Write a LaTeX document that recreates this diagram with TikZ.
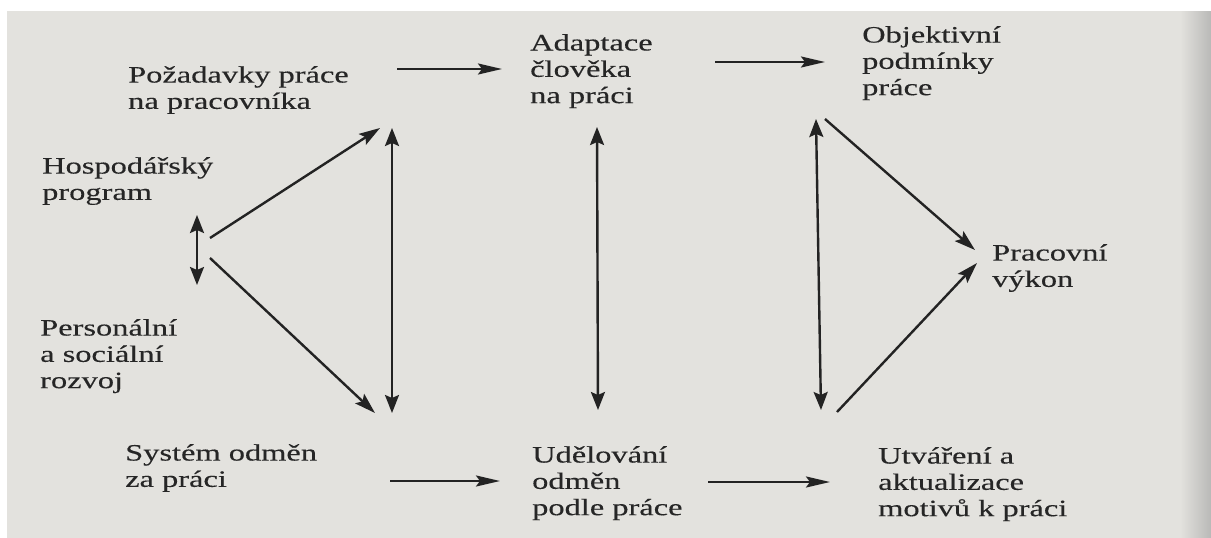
\documentclass[tikz,border=0pt]{standalone}
\usepackage{fontspec}
\setmainfont{Liberation Serif}[FakeStretch=1.38,FakeBold=0.3]
\usetikzlibrary{arrows.meta}
\definecolor{paper}{RGB}{227,226,222}
\definecolor{paperdark}{RGB}{185,185,183}
\definecolor{ink}{RGB}{38,38,38}
\definecolor{lineink}{RGB}{35,35,35}
\tikzset{
  lbl/.style={anchor=north west, align=left, inner sep=0pt, text=ink,
    font=\fontsize{23.5}{26.3}\selectfont},
  conn/.style={draw=lineink, line width=2.4pt,
    -{Stealth[length=21pt,width=13pt,inset=4pt]}},
  hconn/.style={draw=lineink, line width=2.4pt,
    -{Stealth[length=24pt,width=11pt,inset=4pt]}},
  dconn/.style={draw=lineink, line width=2.4pt,
    {Stealth[length=18pt,width=14pt,inset=3pt]}-{Stealth[length=18pt,width=14pt,inset=3pt]}}
}
\begin{document}
\begin{tikzpicture}[x=1pt,y=-1pt]
\useasboundingbox (0,0) rectangle (1211,538);
\fill[white] (0,0) rectangle (1211,538);
\fill[paper] (7,11) rectangle (1211,538);
\shade[left color=paper, right color=paperdark] (1180,11) rectangle (1211,538);

% labels
\node[lbl] (poz) at (128,66) {Požadavky práce\\na pracovníka};
\node[lbl] (adap) at (530,34) {Adaptace\\člověka\\na práci};
\node[lbl] (obj) at (862,26) {Objektivní\\podmínky\\práce};
\node[lbl] (hosp) at (42,157) {Hospodářský\\program};
\node[lbl] (pers) at (40,319) {Personální\\a sociální\\rozvoj};
\node[lbl] (sys) at (125,444) {Systém odměn\\za práci};
\node[lbl] (udel) at (532,446) {Udělování\\odměn\\podle práce};
\node[lbl] (utv) at (878,447) {Utváření a\\aktualizace\\motivů k práci};
\node[lbl] (prac) at (992,244) {Pracovní\\výkon};

% connector end points
\coordinate (a1s) at (397,69);  \coordinate (a1e) at (502,69);
\coordinate (a2s) at (715,62);  \coordinate (a2e) at (825,62);
\coordinate (a3s) at (390,481); \coordinate (a3e) at (500,481);
\coordinate (a4s) at (708,482); \coordinate (a4e) at (830,482);
\coordinate (hu) at (197,215);  \coordinate (hd) at (197,285);
\coordinate (d1s) at (210,238); \coordinate (d1e) at (380,128);
\coordinate (d2s) at (210,258); \coordinate (d2e) at (375,413);
\coordinate (v1t) at (392,128); \coordinate (v1b) at (392,413);
\coordinate (v2t) at (597,127); \coordinate (v2b) at (598,410);
\coordinate (v3t) at (816,119); \coordinate (v3b) at (821,410);
\coordinate (d3s) at (825,119); \coordinate (d3e) at (975,250);
\coordinate (d4s) at (837,412); \coordinate (d4e) at (977,263);

\draw[hconn] (a1s) -- (a1e);
\draw[hconn] (a2s) -- (a2e);
\draw[hconn] (a3s) -- (a3e);
\draw[hconn] (a4s) -- (a4e);
\draw[dconn] (hu) -- (hd);
\draw[conn] (d1s) -- (d1e);
\draw[conn] (d2s) -- (d2e);
\draw[dconn] (v1t) -- (v1b);
\draw[dconn] (v2t) -- (v2b);
\draw[dconn] (v3t) -- (v3b);
\draw[conn] (d3s) -- (d3e);
\draw[conn] (d4s) -- (d4e);
\end{tikzpicture}
\end{document}
